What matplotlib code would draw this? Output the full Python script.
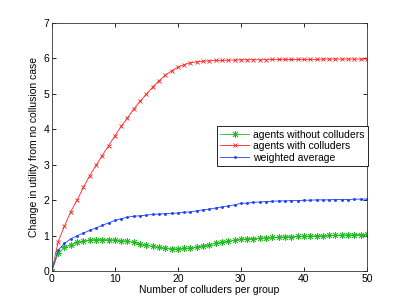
import matplotlib
matplotlib.use('Agg')
import matplotlib.pyplot as plt
import numpy as np

plt.rcParams['font.family'] = ['Liberation Sans', 'DejaVu Sans']

# colluders per group
n_colluders = list(range(0, 51))

without_colluders = [0, 0.50, 0.67, 0.74, 0.81, 0.85, 0.88, 0.89, 0.89, 0.89,
                     0.88, 0.86, 0.85, 0.81, 0.77, 0.73, 0.70, 0.67, 0.64, 0.63,
                     0.63, 0.64, 0.66, 0.68, 0.72, 0.75, 0.78, 0.81, 0.84, 0.87,
                     0.90, 0.91, 0.92, 0.93, 0.94, 0.95, 0.96, 0.97, 0.97, 0.98,
                     0.99, 0.99, 1.00, 1.00, 1.01, 1.01, 1.02, 1.02, 1.03, 1.03,
                     1.04]

with_colluders = [0, 0.83, 1.27, 1.68, 2.00, 2.36, 2.69, 2.98, 3.26, 3.54,
                  3.81, 4.08, 4.32, 4.57, 4.79, 4.99, 5.19, 5.37, 5.52, 5.65,
                  5.75, 5.82, 5.88, 5.90, 5.92, 5.93, 5.94, 5.94, 5.95, 5.95,
                  5.96, 5.96, 5.96, 5.96, 5.96, 5.97, 5.97, 5.97, 5.97, 5.97,
                  5.97, 5.97, 5.97, 5.98, 5.98, 5.98, 5.98, 5.98, 5.98, 5.98,
                  5.98]

weighted_avg = [0, 0.59, 0.78, 0.91, 1.00, 1.07, 1.15, 1.22, 1.29, 1.36,
                1.43, 1.48, 1.52, 1.55, 1.56, 1.58, 1.60, 1.61, 1.62, 1.63,
                1.64, 1.66, 1.67, 1.70, 1.73, 1.75, 1.78, 1.81, 1.84, 1.87,
                1.91, 1.92, 1.94, 1.95, 1.96, 1.97, 1.98, 1.98, 1.99, 1.99,
                2.00, 2.00, 2.01, 2.01, 2.01, 2.02, 2.02, 2.02, 2.03, 2.03,
                2.03]

fig = plt.figure(figsize=(4.05, 3.05), dpi=100)
ax = fig.add_axes([0.128, 0.111, 0.778, 0.814])

# matlab style asterisk / x / point markers
ax.plot(n_colluders, without_colluders, color='#22bb22', marker=(8, 2, 0), markersize=5,
        linewidth=0.6, markeredgewidth=0.6, label='agents without colluders')
ax.plot(n_colluders, with_colluders, color='#ff2020', marker='x', markersize=3.5,
        linewidth=0.6, markeredgewidth=0.6, label='agents with colluders')
ax.plot(n_colluders, weighted_avg, color='#2040ff', marker='.', markersize=2.2,
        linewidth=0.6, label='weighted average')

ax.set_xlim(0, 50)
ax.set_ylim(0, 7)
ax.set_xticks([0, 10, 20, 30, 40, 50])
ax.set_yticks(range(0, 8))
ax.tick_params(direction='in', top=True, right=True, labelsize=7.5, length=3, width=0.6, pad=2)
for s in ax.spines.values():
    s.set_linewidth(0.6)
    s.set_color('#333333')

ax.set_xlabel('Number of colluders per group', fontsize=7.5, labelpad=1)
ax.set_ylabel('Change in utility from no collusion case', fontsize=7.5, labelpad=3)

leg = ax.legend(loc='upper left', bbox_to_anchor=(0.524, 0.583), fontsize=7.5, fancybox=False,
                framealpha=1, edgecolor='black', handlelength=2.8, borderpad=0.3,
                labelspacing=0.15, handletextpad=0.4, borderaxespad=0)
leg.get_frame().set_linewidth(0.6)

fig.savefig('out.png', dpi=100)
